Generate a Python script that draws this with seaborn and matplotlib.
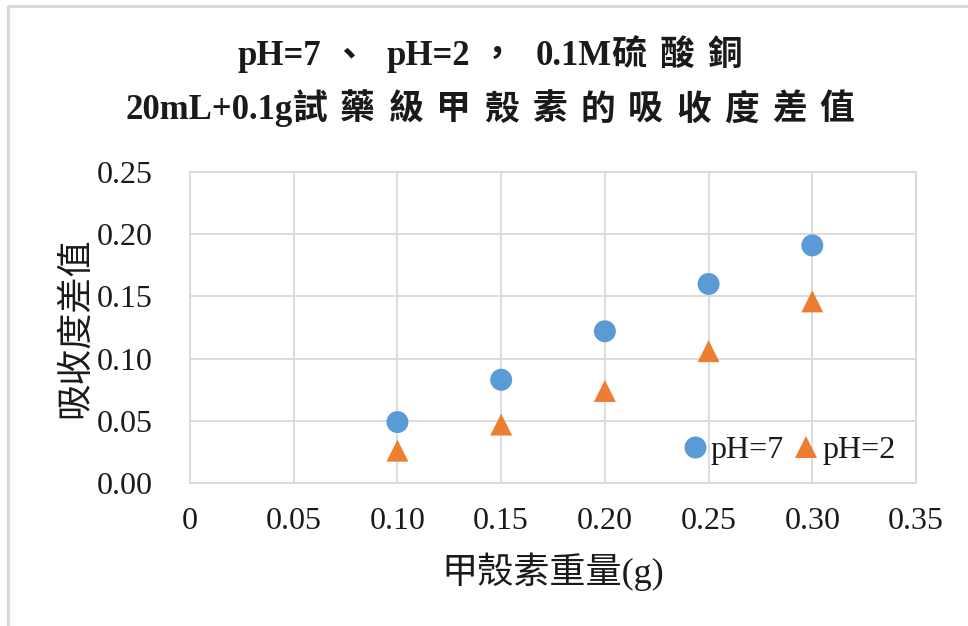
import matplotlib
matplotlib.use("Agg")
import matplotlib.pyplot as plt
from matplotlib.lines import Line2D
from matplotlib.offsetbox import TextArea, HPacker, VPacker, AnchoredOffsetbox, DrawingArea
import seaborn as sns
import pandas as pd

# Chitosan weight (g) and absorbance difference for each pH
chitosan_g = [0.10, 0.15, 0.20, 0.25, 0.30]
abs_ph7 = [0.049, 0.083, 0.122, 0.160, 0.191]
abs_ph2 = [0.026, 0.047, 0.074, 0.106, 0.146]
series_names = ["pH=7", "pH=2"]
x_ticks = [0, 0.05, 0.10, 0.15, 0.20, 0.25, 0.30, 0.35]
x_ticklabels = ["0", "0.05", "0.10", "0.15", "0.20", "0.25", "0.30", "0.35"]
y_ticks = [0.00, 0.05, 0.10, 0.15, 0.20, 0.25]
y_ticklabels = ["0.00", "0.05", "0.10", "0.15", "0.20", "0.25"]
title_lines = [
    ["pH=7", "、", "pH=2", "，", "0.1M", "硫酸銅"],
    ["20mL+0.1g", "試藥級甲殼素的吸收度差值"],
]
x_label = "甲殼素重量(g)"
y_label = "吸收度差值"

df = pd.DataFrame({
    "weight": chitosan_g * 2,
    "absorbance": abs_ph7 + abs_ph2,
    "series": [series_names[0]] * len(abs_ph7) + [series_names[1]] * len(abs_ph2),
})

sns.set_theme(style="whitegrid")
FAM = ["Liberation Serif", "Noto Sans CJK TC"]
plt.rcParams["font.family"] = FAM
plt.rcParams["axes.unicode_minus"] = False

GRID = "#D9D9D9"
INK = "#1a1a1a"
fig = plt.figure(figsize=(9.68, 6.26), dpi=100)
ax = fig.add_axes([0.1963, 0.2284, 0.75, 0.4968])

sns.scatterplot(
    data=df, x="weight", y="absorbance", hue="series", style="series",
    palette={"pH=7": "#5B9BD5", "pH=2": "#ED7D31"},
    markers={"pH=7": "o", "pH=2": "^"},
    s=250, linewidth=0, ax=ax, zorder=3,
)

ax.set_xlim(0, 0.35)
ax.set_ylim(0, 0.25)
ax.set_xticks(x_ticks)
ax.set_xticklabels(x_ticklabels)
ax.set_yticks(y_ticks)
ax.set_yticklabels(y_ticklabels)
ax.tick_params(axis="both", length=0, labelsize=23, colors=INK)
ax.tick_params(axis="y", pad=27)
ax.tick_params(axis="x", pad=17)
ax.grid(True, color=GRID, linewidth=1.3)
for sp in ax.spines.values():
    sp.set_color(GRID)
    sp.set_linewidth(1.3)

ax.set_xlabel(x_label, fontsize=26, color=INK)
ax.set_ylabel(y_label, fontsize=26, color=INK)
ax.xaxis.set_label_coords(0.5, -0.286)
ax.xaxis.label.set_va("center")
ax.yaxis.set_label_coords(-0.156, 0.5)
ax.yaxis.label.set_va("center")

leg = ax.legend(
    loc="center right", bbox_to_anchor=(0.972, 0.106), ncol=2, frameon=False,
    fontsize=23, handlelength=0.7, handletextpad=0.15, columnspacing=0.35,
    borderaxespad=0, borderpad=0,
)
for t in leg.get_texts():
    t.set_color(INK)

# Two-line bold title; CJK characters set with extra tracking,
# and full-width punctuation given some breathing room
tprops = dict(fontsize=25, fontweight="bold", color=INK, family=FAM)
TRACK = 9.5          # points between CJK characters
PUNCT_BEFORE = 7     # points before full-width punctuation
PUNCT_AFTER = 15     # points after full-width punctuation


def is_cjk(s):
    return any(ord(c) > 0x2000 for c in s)


def spacer(w):
    return DrawingArea(w, 0.1, 0, 0)


rows = []
for runs in title_lines:
    kids = []
    for run in runs:
        if run in ("、", "，"):
            kids += [spacer(PUNCT_BEFORE), TextArea(run, textprops=tprops), spacer(PUNCT_AFTER)]
        elif is_cjk(run):
            chars = [TextArea(c, textprops=tprops) for c in run]
            kids.append(HPacker(children=chars, sep=TRACK, pad=0, align="baseline"))
        else:
            kids.append(TextArea(run, textprops=tprops))
    rows.append(HPacker(children=kids, sep=0, pad=0, align="baseline"))

title_box = VPacker(children=rows, sep=15, pad=0, align="center")
anchored = AnchoredOffsetbox(
    loc="center", child=title_box, pad=0, borderpad=0, frameon=False,
    bbox_to_anchor=(0.506, 0.866), bbox_transform=fig.transFigure,
)
fig.add_artist(anchored)

# light chart-area border along the top and left edges
fig.add_artist(Line2D([8 / 968, 8 / 968, 1.0], [0.0, 1 - 6 / 626, 1 - 6 / 626],
                      transform=fig.transFigure, color=GRID, linewidth=2.2))

fig.savefig("out.png", dpi=100, facecolor="white")
